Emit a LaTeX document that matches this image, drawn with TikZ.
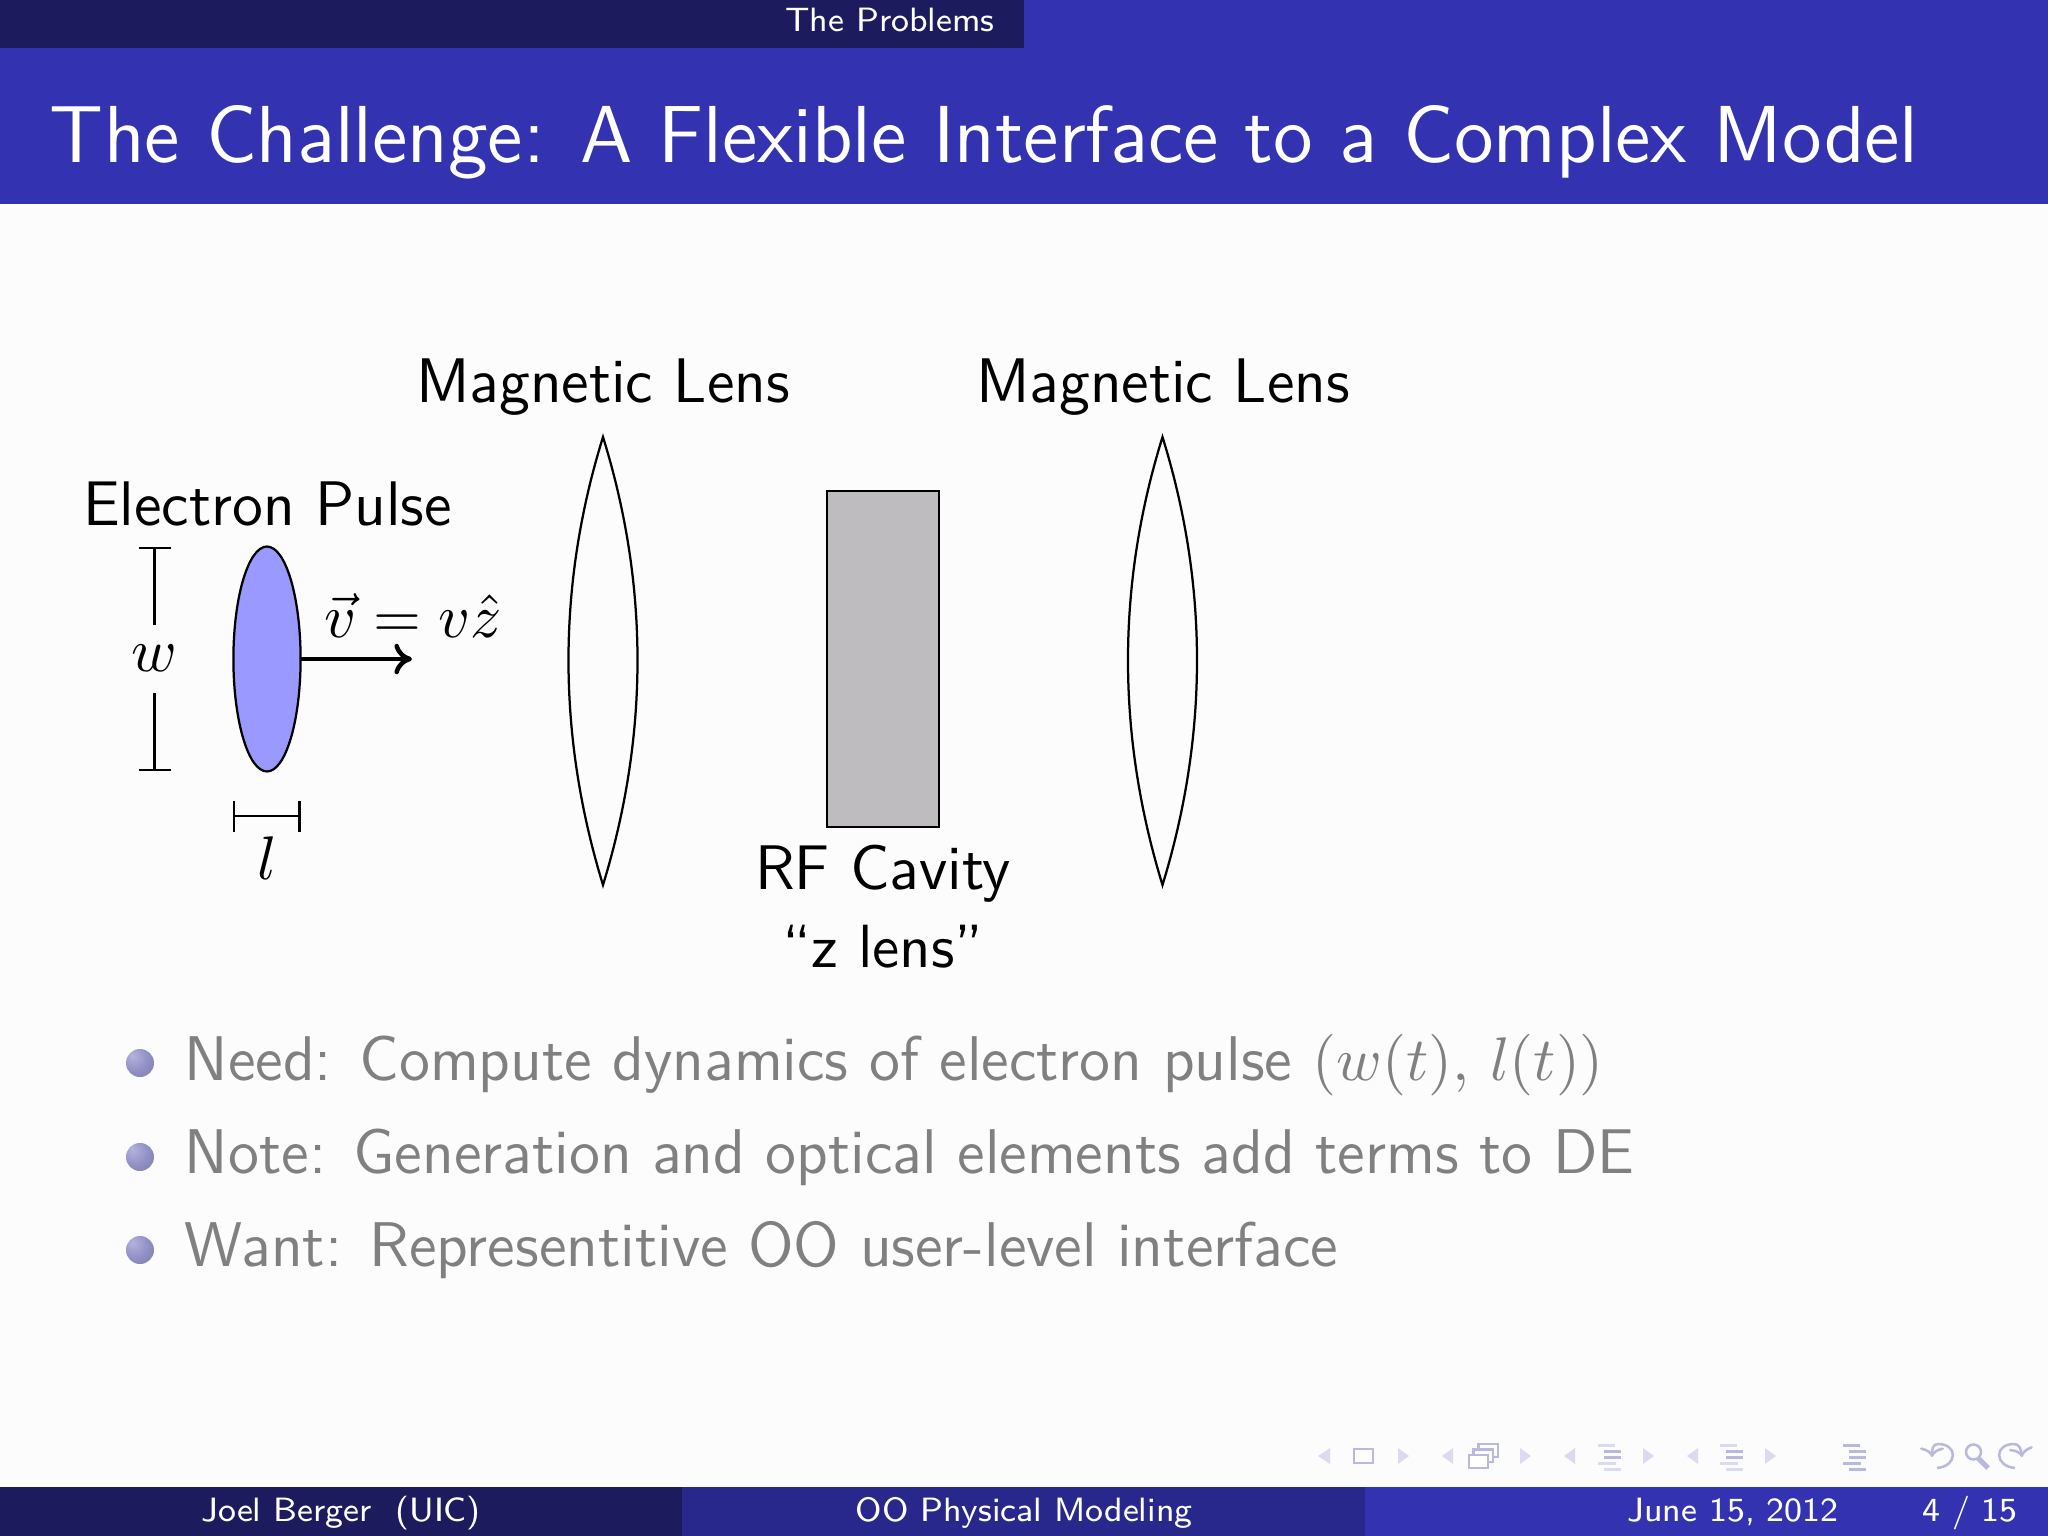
\documentclass[tikz,border=0pt]{standalone}
\usepackage{fontspec}
\usetikzlibrary{arrows.meta,shapes.geometric}
\definecolor{hdark}{HTML}{1B1B5E}
\definecolor{hblue}{HTML}{3333B2}
\definecolor{hmid}{HTML}{28288C}
\definecolor{pulse}{HTML}{9999FF}
\definecolor{cavity}{HTML}{BEBCBE}
\definecolor{navc}{HTML}{B9B9E0}
\definecolor{navl}{HTML}{DADAF0}
\definecolor{ballhi}{HTML}{B4B4DC}
\definecolor{ballmid}{HTML}{9292C8}
\definecolor{ballrim}{HTML}{7C7CAC}
\pgfdeclareradialshading{softball}{\pgfpoint{-14bp}{14bp}}{color(0bp)=(ballhi); color(22bp)=(ballmid); color(42bp)=(ballrim); color(70bp)=(ballrim)}
\tikzset{
  x=0.0625mm,y=-0.0625mm,
  every node/.style={inner sep=0pt,outer sep=0pt,font=\sffamily},
  diag/.style={font=\sffamily\fontsize{11.2}{13}\selectfont,text=black,anchor=base},
  item/.style={font=\sffamily\fontsize{11.23}{13}\selectfont,text=gray,anchor=base west},
  foot/.style={font=\sffamily\fontsize{6}{8}\selectfont,text=white,anchor=base},
  mathlab/.style={font=\fontsize{11.2}{13}\selectfont},
  ln/.style={line width=0.4pt,black},
  ball/.style={circle,minimum size=1.75mm,shading=softball},
  nav/.style={draw=navc,line width=0.45pt,fill=none},
}
\newcommand{\navtri}[3]{\fill[navl] (#1,1448) -- (#2,#3) -- (#1,1464) -- cycle;}
\newcommand{\navbars}[2]{%
  \foreach \i/\a/\b/\c in {0/0/17/#2,1/6/23/navc,2/6/23/navc,3/0/18/#2,4/6/23/#2}{
    \fill[\c] (#1+\a,1444+\i*6) rectangle (#1+\b,1447+\i*6);}}
\begin{document}
\begin{tikzpicture}
\useasboundingbox (0,0) rectangle (2048,1536);
\fill[white!99!black] (0,0) rectangle (2048,1536);
% header
\fill[hblue] (0,0) rectangle (2048,204);
\fill[hdark] (0,0) rectangle (1024,48);
\node[foot] (sec) at (890,32) {The Problems};
\node[font=\sffamily\fontsize{14.38}{17}\selectfont,text=white,anchor=base west] (title) at (50,162) {The Challenge: A Flexible Interface to a Complex Model};
% labels
\node[diag] (lab1) at (603,402) {Magnetic Lens};
\node[diag] (lab2) at (1163,402) {Magnetic Lens};
\node[diag,anchor=base west] (ep) at (83,525) {Electron Pulse};
\node[diag] (rf) at (883,889) {RF Cavity};
\node[diag,font=\sffamily\fontsize{10.85}{13}\selectfont] (zl) at (883,967) {“z lens”};
% lenses
\draw[ln] (603,437) .. controls (557,585) and (557,735) .. (603,885) .. controls (649,735) and (649,585) .. (603,437) -- cycle;
\draw[ln] (1162.5,437) .. controls (1116.5,585) and (1116.5,735) .. (1162.5,885) .. controls (1208.5,735) and (1208.5,585) .. (1162.5,437) -- cycle;
% cavity
\draw[ln,fill=cavity] (827,491) rectangle (939,827);
% pulse
\node[ellipse,draw=black,fill=pulse,line width=0.4pt,minimum width=4.2mm,minimum height=14.06mm] (pulsee) at (267,659) {};
\coordinate (tip) at (412,659);
\draw[black,line width=0.8pt,-{To[length=1.1mm,width=1.9mm]}] (pulsee.east) -- (tip);
\node[mathlab,anchor=base] (vel) at (413,637) {$\vec{v} = v\hat{z}$};
% w
\node[mathlab] (wl) at (154.6,658) {$w$};
\coordinate (wt) at (154.6,548.3);
\coordinate (wb) at (154.6,770);
\coordinate (wu) at (154.6,625);
\coordinate (wd) at (154.6,693);
\draw[ln] (wt) -- (wu);
\draw[ln] (wb) -- (wd);
\draw[ln] ([xshift=-1mm]wt) -- ([xshift=1mm]wt);
\draw[ln] ([xshift=-1mm]wb) -- ([xshift=1mm]wb);
% l
\coordinate (la) at (234,816);
\coordinate (lb) at (299.5,816);
\draw[ln] (la) -- (lb);
\draw[ln] (234,801) -- (234,832);
\draw[ln] (299.5,801) -- (299.5,832);
\node[mathlab] (ll) at (267,858) {$l$};
% bullets
\node[ball] (b1) at (140,1063) {};
\node[ball] (b2) at (140,1157) {};
\node[ball] (b3) at (140,1250) {};
\node[item] (t1) at (185,1080) {Need: Compute dynamics of electron pulse $(w(t),\,l(t))$};
\node[item] (t2) at (185,1173) {Note: Generation and optical elements add terms to DE};
\node[item] (t3) at (185,1266) {Want: Representitive OO user-level interface};
% footer
\fill[hdark] (0,1487) rectangle (682,1536);
\fill[hmid] (682,1487) rectangle (1365,1536);
\fill[hblue] (1365,1487) rectangle (2048,1536);
\node[foot] (f1) at (341,1521) {Joel Berger\ \ (UIC)};
\node[foot] (f2) at (1024,1521) {OO Physical Modeling};
\node[foot] (f3) at (1733,1521) {June 15, 2012};
\node[foot] (f4) at (1970,1521) {4 / 15};
% navigation symbols
\navtri{1330}{1318}{1456}
\draw[nav] (1354,1449) rectangle (1373,1463);
\navtri{1398}{1409}{1456}
\navtri{1453}{1442}{1456}
\draw[nav] (1478.5,1444) rectangle (1498,1457);
\draw[nav,fill=white] (1473.5,1449.5) rectangle (1493,1462);
\draw[nav,fill=white] (1469,1455) rectangle (1488,1468);
\navtri{1520}{1531}{1456}
\navtri{1575}{1564}{1456}
\navbars{1598}{navl}
\navtri{1643}{1654}{1456}
\navtri{1698}{1687}{1456}
\navbars{1720}{navl}
\navtri{1765}{1776}{1456}
\navbars{1843}{navc}
\draw[nav,-{To[length=0.6mm,width=1.5mm]}] (1937,1468) .. controls (1958,1466) and (1958,1444) .. (1938,1444) .. controls (1933,1444) and (1932,1449) .. (1932,1457);
\draw[nav] (1973.5,1452) circle[radius=7.5];
\draw[navc,line width=0.9pt] (1978,1458) -- (1988,1468);
\draw[nav,-{To[length=0.6mm,width=1.5mm]}] (2015,1468) .. controls (1994,1466) and (1994,1444) .. (2014,1444) .. controls (2019,1444) and (2021,1449) .. (2022,1457);
\end{tikzpicture}
\end{document}
